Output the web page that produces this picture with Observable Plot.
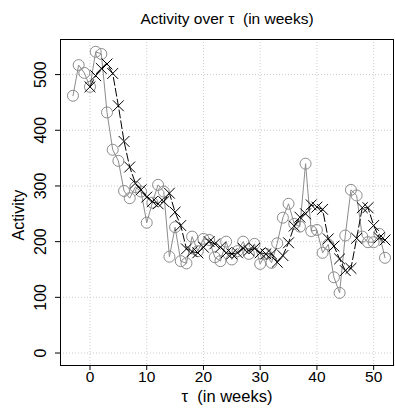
<!DOCTYPE html>
<html><head><meta charset="utf-8">
<script src="https://cdn.jsdelivr.net/npm/d3@7"></script>
<script src="https://cdn.jsdelivr.net/npm/@observablehq/plot@0.6"></script>
<style>body{margin:0;background:#fff;font-family:"Liberation Sans",Arial,sans-serif}</style>
</head><body><div id="chart"></div>
<script>
const greyWeeks = d3.range(-3, 53);
const greyValues = [462,517,503,478,541,537,432,365,345,291,278,298,290,234,270,302,290,173,226,165,161,209,183,205,203,172,165,200,168,183,200,178,196,160,178,162,197,243,268,232,227,340,219,221,180,195,136,108,211,293,283,209,199,199,214,171];
const blackWeeks = d3.range(0, 53);
const blackValues = [478,498,511,519,502,444,380,334,305,293,280,272,268,272,287,253,229,187,182,180,190,200,196,190,180,178,180,188,184,188,180,178,178,163,175,198,228,244,250,266,262,258,205,192,169,148,152,206,261,261,229,207,203];
const xTicks = [0,10,20,30,40,50];
const yTicks = [0,100,200,300,400,500];
const titleText = "Activity over \u03c4  (in weeks)";
const xLabel = "\u03c4  (in weeks)";
const yLabel = "Activity";

const grey = greyWeeks.map((w,i)=>({w, v: greyValues[i]}));
const black = blackWeeks.map((w,i)=>({w, v: blackValues[i]}));

const chart = Plot.plot({
  width: 395, height: 408,
  marginLeft: 60, marginTop: 39, marginRight: 2, marginBottom: 43,
  style: {fontFamily: '"Liberation Sans", Arial, sans-serif', background: "#fff"},
  x: {domain: [-5.2, 53.5]},
  y: {domain: [-22.4, 563]},
  marks: [
    Plot.gridX(xTicks, {stroke: "#ccc", strokeOpacity: 1, strokeDasharray: "1,2"}),
    Plot.gridY(yTicks, {stroke: "#ccc", strokeOpacity: 1, strokeDasharray: "1,2"}),
    Plot.line(grey, {x: "w", y: "v", stroke: "#8c8c8c", strokeWidth: 1}),
    Plot.dot(grey, {x: "w", y: "v", r: 5.5, stroke: "#8c8c8c", strokeWidth: 1, fill: "none"}),
    Plot.line(black, {x: "w", y: "v", stroke: "#000", strokeWidth: 1, strokeDasharray: "8,3"}),
    Plot.dot(black, {x: "w", y: "v", symbol: "times", r: 5, stroke: "#000", strokeWidth: 1}),
    Plot.frame({stroke: "#000"}),
    Plot.axisX(xTicks, {tickSize: 5, tickPadding: 0, fontSize: 15.5, label: null, color: "#000"}),
    Plot.axisY(yTicks, {tickSize: 5, tickRotate: -90, tickPadding: 10, fontSize: 16, label: null, textAnchor: "middle", color: "#000"}),
    Plot.text([titleText], {frameAnchor: "top", dy: -27, fontSize: 15.5, fill: "#000"}),
    Plot.text([xLabel], {frameAnchor: "bottom", dy: 36, fontSize: 16.5, fill: "#000"}),
    Plot.text([yLabel], {frameAnchor: "left", dx: -42, dy: 38, rotate: -90, fontSize: 16, fill: "#000"})
  ]
});
document.getElementById("chart").appendChild(chart);
</script></body></html>
